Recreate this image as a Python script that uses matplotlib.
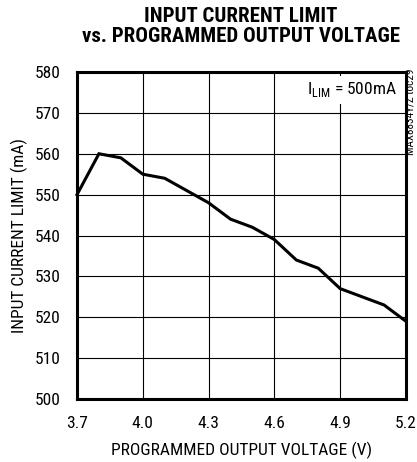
import matplotlib
matplotlib.use('Agg')
import matplotlib.pyplot as plt

# programmed output voltage (V) vs input current limit (mA)
voltage = [3.7, 3.8, 3.9, 4.0, 4.1, 4.2, 4.3, 4.4, 4.5, 4.6, 4.7, 4.8, 4.9, 5.0, 5.1, 5.2]
current = [550, 560, 559, 555, 554, 551, 548, 544, 542, 539, 534, 532, 527, 525, 523, 519]

x_ticks = [3.7, 4.0, 4.3, 4.6, 4.9, 5.2]
x_tick_labels = ['3.7', '4.0', '4.3', '4.6', '4.9', '5.2']
y_ticks = [500, 510, 520, 530, 540, 550, 560, 570, 580]

plt.rcParams['font.family'] = ['Roboto Condensed', 'DejaVu Sans']
plt.rcParams['mathtext.fontset'] = 'custom'
plt.rcParams['mathtext.rm'] = 'Roboto Condensed'

fig = plt.figure(figsize=(4.17, 4.62), dpi=100)
# axes box in pixels: left 77, right 406, top 72, bottom 399
ax = fig.add_axes([77 / 417, 1 - 399 / 462, 329 / 417, 327 / 462])

ax.plot(voltage, current, color='black', linewidth=2.2, solid_joinstyle='miter', clip_on=False, zorder=3)

ax.set_xlim(3.7, 5.2)
ax.set_ylim(500, 580)
ax.set_xticks(x_ticks)
ax.set_xticklabels(x_tick_labels)
ax.set_yticks(y_ticks)
ax.tick_params(length=0, labelsize=12.5)
ax.tick_params(axis='x', pad=12)
ax.tick_params(axis='y', pad=12)
ax.grid(True, color='black', linewidth=0.8)
for s in ax.spines.values():
    s.set_linewidth(2.2)

ax.set_xlabel('PROGRAMMED OUTPUT VOLTAGE (V)', fontsize=12.5, labelpad=8)
ax.set_ylabel('INPUT CURRENT LIMIT (mA)', fontsize=12.5, labelpad=5)

fig.text(241 / 417, 1 - 7 / 462, 'INPUT CURRENT LIMIT\nvs. PROGRAMMED OUTPUT VOLTAGE',
         ha='center', va='top', fontsize=15, fontweight='bold', linespacing=1.1)

ax.text(0.973, 0.945, r'I$_{\mathregular{LIM}}$ = 500mA', transform=ax.transAxes,
        ha='right', va='center', fontsize=12.5, bbox=dict(facecolor='white', edgecolor='none', pad=3))
fig.text(410 / 417, 1 - 69 / 462, 'MAX8834Y/Z toc29', rotation=90, ha='center', va='top',
         fontsize=8)

fig.savefig('out.png', dpi=100)
